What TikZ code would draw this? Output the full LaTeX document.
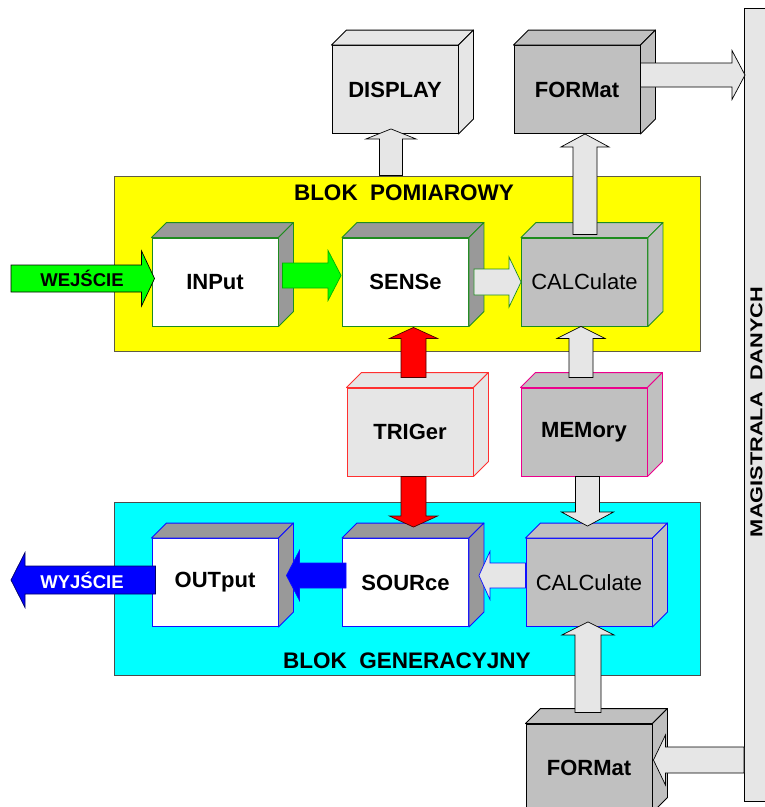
\documentclass[tikz,border=0pt]{standalone}
\usepackage{fontspec}
\setmainfont{Liberation Sans}
\usetikzlibrary{calc}

% colours
\definecolor{lgray}{HTML}{E6E6E6}
\definecolor{mgray}{HTML}{C0C0C0}
\definecolor{dgray}{HTML}{999999}
\definecolor{boxgreen}{HTML}{1E8C1E}
\definecolor{boxred}{HTML}{FF3030}
\definecolor{boxblue}{HTML}{1010FF}
\definecolor{yellowbg}{HTML}{FFFF00}
\definecolor{cyanbg}{HTML}{00FFFF}

\tikzset{
  x=1pt, y=-1pt,
  boxfront/.style={rectangle, line width=0.9pt, minimum width=126pt, minimum height=88pt,
    inner sep=0pt, font=\fontsize{22}{26}\selectfont\bfseries},
  calctext/.style={font=\fontsize{22}{26}\selectfont},
  panel/.style={rectangle, inner sep=0pt, line width=1pt},
  paneltitle/.style={font=\fontsize{22.5}{25}\selectfont\bfseries},
  barrow/.style={line width=0.7pt, line join=miter},
  grayarrow/.style={barrow, fill=lgray, draw=black},
}

% 3-D box: name, centre, front fill, top/side fill, outline, extra node options, text
\newcommand\threedbox[7]{%
  \node[boxfront, fill=#3, draw=#5, #6] (#1) at (#2) {#7};
  \draw[line width=0.9pt, draw=#5, fill=#4, line join=round]
    (#1.north west) -- ++(15,-15) -- ($(#1.north east)+(15,-15)$) -- (#1.north east) -- cycle;
  \draw[line width=0.9pt, draw=#5, fill=#4, line join=round]
    (#1.north east) -- ++(15,-15) -- ($(#1.south east)+(15,-15)$) -- (#1.south east) -- cycle;
}

% block arrow: style, start, tip, shaft half width, head half width, head length
\newcommand\blockarrow[6]{%
  \coordinate (ba-h) at ($(#3)!#6!(#2)$);
  \path[#1]
    ($(#2)!#4!90:(#3)$) -- ($(ba-h)!#4!90:(#3)$) -- ($(ba-h)!#5!90:(#3)$) -- (#3)
    -- ($(ba-h)!#5!-90:(#3)$) -- ($(ba-h)!#4!-90:(#3)$) -- ($(#2)!#4!-90:(#3)$) -- cycle;
}

\begin{document}
\begin{tikzpicture}
\useasboundingbox (0,0) rectangle (765,807);
\clip (0,0) rectangle (765,807);
\fill[white] (0,0) rectangle (765,807);

% background panels and data bus
\node[panel, fill=yellowbg, draw=black!60!yellow!70!black, minimum width=586pt, minimum height=175pt] (pom) at (407,263.5) {};
\node[panel, fill=cyanbg, draw=black!70, minimum width=586pt, minimum height=173pt] (gen) at (407,588.5) {};
\node[panel, fill=lgray, draw=black, minimum width=40pt, minimum height=793pt] (bus) at (764.5,404.5) {};
\node[rotate=90] (busl) at (756.5,412) {\resizebox{250pt}{12pt}{\bfseries MAGISTRALA\ \ DANYCH}};

\node[paneltitle] (pomt) at (404,193) {BLOK\ \ POMIAROWY};
\node[paneltitle] (gent) at (407,661) {BLOK\ \ GENERACYJNY};

% boxes
\threedbox{disp}{395,89.5}{lgray}{lgray}{black}{}{DISPLAY}
\threedbox{fmt1}{577,89.5}{mgray}{mgray}{black}{}{FORMat}
\threedbox{inp}{215,282}{white}{dgray}{boxgreen}{}{INPut}
\threedbox{sen}{405.5,282}{white}{dgray}{boxgreen}{}{SENSe}
\threedbox{calc1}{584.5,282}{mgray}{mgray}{boxgreen}{calctext}{CALCulate}
\threedbox{trig}{410,432}{lgray}{lgray}{boxred}{}{TRIGer}
\threedbox{mem}{584,432}{mgray}{mgray}{magenta}{}{MEMory}
\threedbox{out}{215,582.5}{white}{dgray}{boxblue}{}{OUTput}
\threedbox{sou}{405.5,582.5}{white}{dgray}{boxblue}{}{SOURce}
\threedbox{calc2}{589,582.5}{mgray}{mgray}{boxblue}{calctext}{CALCulate}
\threedbox{fmt2}{589,768}{mgray}{mgray}{black}{}{FORMat}

% arrow end points
\coordinate (a1t) at ($(disp.south)+(-4,-5)$);
\coordinate (a1s) at (a1t |- pom.north);
\coordinate (a2s) at ($(fmt1.east)+(0,-14.5)$);
\coordinate (a2t) at ($(a2s -| bus.west)+(1,0)$);
\coordinate (a3t) at ($(fmt1.south)+(8,0)$);
\coordinate (a3s) at ($(a3t |- calc1.north)+(0,-3)$);
\coordinate (win) at (11,278.5);
\coordinate (a4t) at ($(inp.west)+(3,-3.5)$);
\coordinate (a5s) at ($(inp.east)+(4,-6.5)$);
\coordinate (a5t) at ($(a5s -| sen.west)+(-1,0)$);
\coordinate (a6s) at ($(sen.east)+(5,0)$);
\coordinate (a6t) at (a6s -| calc1.west);
\coordinate (a7t) at ($(sen.south)+(8,1)$);
\coordinate (a7s) at ($(a7t |- trig.north)+(0,-10)$);
\coordinate (a8t) at ($(calc1.south)+(-3.5,0)$);
\coordinate (a8s) at ($(a8t |- mem.north)+(0,-10)$);
\coordinate (a9s) at ($(trig.south)+(3.5,0)$);
\coordinate (a9t) at ($(a9s |- sou.north)+(0,-11)$);
\coordinate (a10s) at ($(mem.south)+(3.5,0)$);
\coordinate (a10t) at ($(a10s |- calc2.north)+(0,-12)$);
\coordinate (a11s) at ($(sou.west)+(4,-7)$);
\coordinate (a11t) at ($(a11s -| out.east)+(8,0)$);
\coordinate (a12s) at ($(calc2.west)+(0,-7)$);
\coordinate (a12t) at ($(a12s -| sou.east)+(10,0)$);
\coordinate (a13s) at ($(out.west)+(4,-2.5)$);
\coordinate (wout) at (11,580);
\coordinate (a14s) at ($(fmt2.north)+(-1,-11)$);
\coordinate (a14t) at ($(calc2.south)+(-1,-5)$);
\coordinate (a15t) at ($(fmt2.east)+(1,-8)$);
\coordinate (a15s) at (a15t -| bus.west);

% arrows
\blockarrow{grayarrow}{a1s}{a1t}{11.5pt}{25pt}{10pt}
\blockarrow{grayarrow}{a2s}{a2t}{12pt}{24.5pt}{13pt}
\blockarrow{grayarrow}{a3s}{a3t}{12pt}{24pt}{13pt}
\blockarrow{barrow, fill=green, draw=black}{win}{a4t}{13.5pt}{27.5pt}{13pt}
\blockarrow{barrow, fill=green, draw=green!70!black}{a5s}{a5t}{12.5pt}{25pt}{13pt}
\blockarrow{barrow, fill=lgray, draw=boxgreen}{a6s}{a6t}{13pt}{25pt}{12pt}
\blockarrow{barrow, fill=red, draw=black!70!red}{a7s}{a7t}{12.5pt}{24pt}{11pt}
\blockarrow{grayarrow}{a8s}{a8t}{12pt}{24pt}{12pt}
\blockarrow{barrow, fill=red, draw=black!70!red}{a9s}{a9t}{12.5pt}{24pt}{11pt}
\blockarrow{grayarrow}{a10s}{a10t}{12pt}{26pt}{14pt}
\blockarrow{barrow, fill=blue, draw=boxblue}{a11s}{a11t}{12.5pt}{25pt}{13pt}
\blockarrow{barrow, fill=lgray, draw=boxblue}{a12s}{a12t}{12.5pt}{24pt}{11pt}
\blockarrow{barrow, fill=blue, draw=black!60!blue}{a13s}{wout}{14pt}{27.5pt}{14pt}
\blockarrow{grayarrow}{a14s}{a14t}{13pt}{26pt}{13pt}
\blockarrow{grayarrow}{a15s}{a15t}{13pt}{25pt}{12pt}

% arrow labels
\node[font=\fontsize{18.5}{22}\selectfont\bfseries] (wej) at (82,278) {WEJŚCIE};
\node[font=\fontsize{18.5}{22}\selectfont\bfseries, text=white] (wyj) at (82,580) {WYJŚCIE};
\end{tikzpicture}
\end{document}
